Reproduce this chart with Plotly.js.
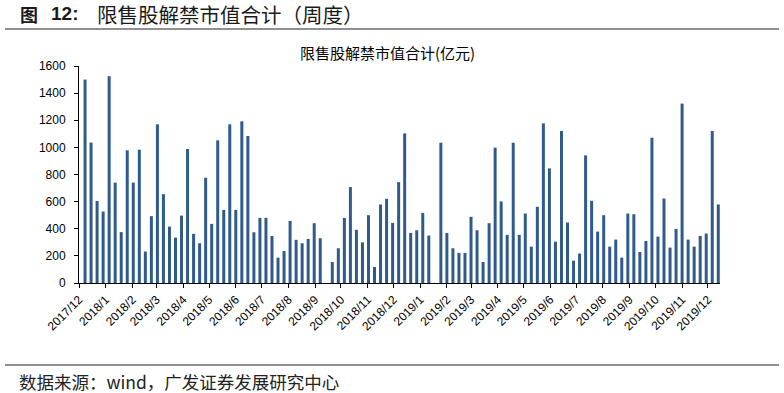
<!DOCTYPE html>
<html>
<head>
<meta charset="utf-8">
<script src="https://cdn.plot.ly/plotly-3.0.1.min.js"></script>
<style>
html,body{margin:0;padding:0;background:#fff;}
#chart{width:784px;height:393px;}
</style>
</head>
<body>
<div id="chart"></div>
<script>
const weeks = [
"2017-12-08","2017-12-15","2017-12-22","2017-12-29",
"2018-01-05","2018-01-12","2018-01-19","2018-01-26",
"2018-02-02","2018-02-09","2018-02-16","2018-02-23",
"2018-03-02","2018-03-09","2018-03-16","2018-03-23","2018-03-30",
"2018-04-06","2018-04-13","2018-04-20","2018-04-27",
"2018-05-04","2018-05-11","2018-05-18","2018-05-25",
"2018-06-01","2018-06-08","2018-06-15","2018-06-22","2018-06-29",
"2018-07-06","2018-07-13","2018-07-20","2018-07-27",
"2018-08-03","2018-08-10","2018-08-17","2018-08-24","2018-08-31",
"2018-09-07","2018-09-14","2018-09-21","2018-09-28",
"2018-10-05","2018-10-12","2018-10-19","2018-10-26",
"2018-11-02","2018-11-09","2018-11-16","2018-11-23","2018-11-30",
"2018-12-07","2018-12-14","2018-12-21","2018-12-28",
"2019-01-04","2019-01-11","2019-01-18","2019-01-25",
"2019-02-01","2019-02-08","2019-02-15","2019-02-22",
"2019-03-01","2019-03-08","2019-03-15","2019-03-22","2019-03-29",
"2019-04-05","2019-04-12","2019-04-19","2019-04-26",
"2019-05-03","2019-05-10","2019-05-17","2019-05-24","2019-05-31",
"2019-06-07","2019-06-14","2019-06-21","2019-06-28",
"2019-07-05","2019-07-12","2019-07-19","2019-07-26",
"2019-08-02","2019-08-09","2019-08-16","2019-08-23","2019-08-30",
"2019-09-06","2019-09-13","2019-09-20","2019-09-27",
"2019-10-04","2019-10-11","2019-10-18","2019-10-25",
"2019-11-01","2019-11-08","2019-11-15","2019-11-22","2019-11-29",
"2019-12-06","2019-12-13"
];

const unlockValue = [
1500,1035,605,527,
1525,740,375,978,
740,983,232,493,
1170,655,416,335,497,
988,362,293,776,
436,1052,539,1170,
539,1192,1084,374,480,
480,347,187,236,
458,318,293,325,441,
330,null,155,256,
480,707,392,300,
500,118,579,621,443,
744,1103,369,389,
517,350,null,1034,
369,256,222,222,
488,389,155,441,998,
601,355,1034,355,
512,268,562,1177,845,
305,1121,446,165,
217,941,606,379,
500,268,320,187,512,
507,229,310,1071,
342,623,261,399,
1323,320,268,347,365,
1121,579
];

const chartTitle = "限售股解禁市值合计(亿元)";
const figLabel = "图";
const figNumber = "12:";
const figTitle = "限售股解禁市值合计（周度）";
const sourceText = "数据来源：wind，广发证券发展研究中心";

const L = 79, R = 64, T = 66, B = 110, W = 784, H = 393;
const pw = W - L - R, ph = H - T - B;
const px = x => (x - L) / pw;
const py = y => (H - B - y) / ph;

const cjk = "'Noto Sans CJK SC', 'Noto Sans', sans-serif";
const arial = "'Liberation Sans', Arial, sans-serif";

const trace = {
  type: "bar",
  x: weeks,
  y: unlockValue,
  width: 3.0e8,
  marker: {color: "#2F5A8C", line: {width: 0}},
  hoverinfo: "x+y"
};

const layout = {
  width: W, height: H,
  margin: {l: L, r: R, t: T, b: B, pad: 0},
  paper_bgcolor: "#ffffff",
  plot_bgcolor: "#ffffff",
  showlegend: false,
  font: {family: arial, size: 12, color: "#000"},
  xaxis: {
    type: "date",
    range: ["2017-12-01", "2019-12-15"],
    tick0: "2017-12-01",
    dtick: "M1",
    tickformat: "%Y/%-m",
    tickangle: -45,
    ticks: "outside",
    ticklen: 4,
    tickcolor: "#000",
    showline: true,
    linecolor: "#000",
    linewidth: 1,
    showgrid: false,
    zeroline: false,
    tickfont: {family: arial, size: 12, color: "#000"}
  },
  yaxis: {
    range: [0, 1600],
    tick0: 0,
    dtick: 200,
    ticks: "outside",
    ticklen: 4,
    tickcolor: "#000",
    showline: true,
    linecolor: "#000",
    linewidth: 1,
    showgrid: false,
    zeroline: false,
    ticklabelstandoff: 6,
    tickfont: {family: arial, size: 12, color: "#000"}
  },
  shapes: [
    {type: "line", xref: "paper", yref: "paper", x0: px(5), x1: px(779), y0: py(29), y1: py(29),
     line: {color: "#222", width: 1.2}},
    {type: "line", xref: "paper", yref: "paper", x0: px(5), x1: px(779), y0: py(365), y1: py(365),
     line: {color: "#222", width: 1.2}}
  ],
  annotations: [
    {text: "<b>" + figLabel + "</b>", xref: "paper", yref: "paper", x: px(18), y: py(14),
     xanchor: "left", yanchor: "middle", showarrow: false,
     font: {family: cjk, size: 18, color: "#1a1a1a"}},
    {text: "<b>" + figNumber + "</b>", xref: "paper", yref: "paper", x: px(49), y: py(14),
     xanchor: "left", yanchor: "middle", showarrow: false,
     font: {family: arial, size: 19, color: "#1a1a1a"}},
    {text: figTitle, xref: "paper", yref: "paper", x: px(95), y: py(14),
     xanchor: "left", yanchor: "middle", showarrow: false,
     font: {family: cjk, size: 20.5, color: "#1a1a1a"}},
    {text: chartTitle, xref: "paper", yref: "paper", x: px(387), y: py(52),
     xanchor: "center", yanchor: "middle", showarrow: false,
     font: {family: cjk, size: 15, color: "#000"}},
    {text: sourceText, xref: "paper", yref: "paper", x: px(17), y: py(381),
     xanchor: "left", yanchor: "middle", showarrow: false,
     font: {family: cjk, size: 17.5, color: "#222"}}
  ]
};

Plotly.newPlot("chart", [trace], layout, {displayModeBar: false, staticPlot: true});
</script>
</body>
</html>
